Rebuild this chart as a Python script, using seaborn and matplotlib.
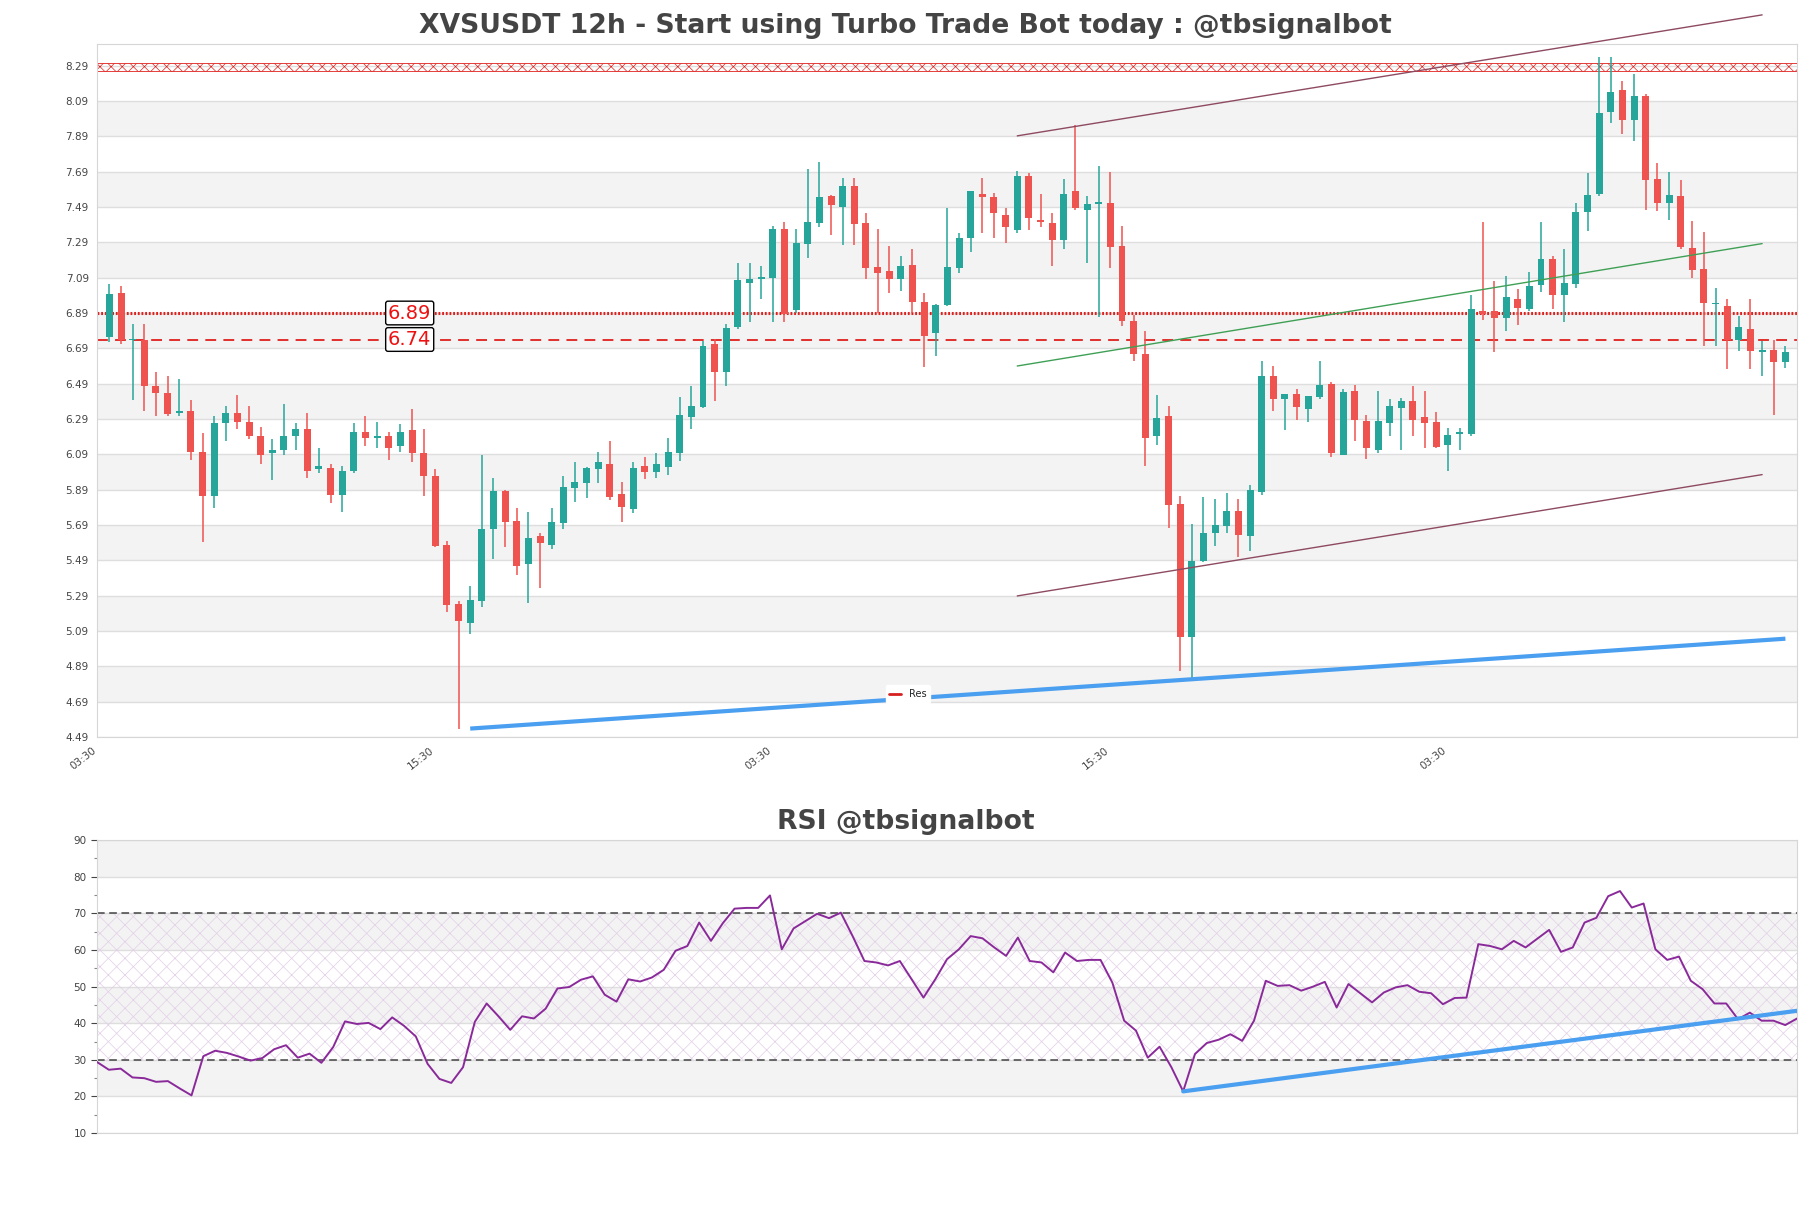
import numpy as np
import pandas as pd
import matplotlib
matplotlib.use("Agg")
import matplotlib.pyplot as plt
from matplotlib.lines import Line2D
import seaborn as sns

# 12h candles
opens = [6.752, 7.005, 6.735, 6.737, 6.479, 6.439, 6.324, 6.337, 6.103, 5.852,
         6.266, 6.324, 6.273, 6.196, 6.098, 6.113, 6.192, 6.235, 6.005, 6.015,
         5.862, 5.994, 6.216, 6.182, 6.196, 6.135, 6.230, 6.099, 5.969, 5.579,
         5.245, 5.132, 5.260, 5.665, 5.882, 5.713, 5.471, 5.628, 5.579, 5.703,
         5.901, 5.930, 6.009, 6.037, 5.865, 5.782, 6.022, 5.992, 6.020, 6.099,
         6.303, 6.360, 6.714, 6.554, 6.809, 7.062, 7.080, 7.090, 7.365, 6.907,
         7.282, 7.401, 7.552, 7.492, 7.607, 7.397, 7.148, 7.130, 7.083, 7.159,
         6.955, 6.775, 6.936, 7.144, 7.315, 7.566, 7.549, 7.447, 7.362, 7.668,
         7.417, 7.397, 7.304, 7.579, 7.471, 7.508, 7.512, 7.267, 6.847, 6.660,
         6.192, 6.309, 5.807, 5.055, 5.486, 5.642, 5.684, 5.767, 5.625, 5.877,
         6.532, 6.403, 6.430, 6.346, 6.413, 6.490, 6.087, 6.449, 6.278, 6.115,
         6.267, 6.350, 6.392, 6.301, 6.271, 6.140, 6.206, 6.204, 6.901, 6.901,
         6.862, 6.970, 6.915, 7.047, 7.193, 6.990, 7.054, 7.460, 7.564, 8.030,
         8.152, 7.984, 8.116, 7.648, 7.513, 7.550, 7.260, 7.139, 6.940, 6.928,
         6.739, 6.799, 6.667, 6.680, 6.615]
highs = [7.056, 7.045, 6.830, 6.830, 6.556, 6.535, 6.518, 6.399, 6.209, 6.309,
         6.366, 6.428, 6.362, 6.245, 6.177, 6.377, 6.269, 6.324, 6.126, 6.037,
         6.024, 6.269, 6.309, 6.273, 6.216, 6.260, 6.349, 6.235, 6.009, 5.598,
         5.258, 5.347, 6.086, 5.954, 5.890, 5.784, 5.764, 5.643, 5.784, 5.967,
         6.047, 6.020, 6.103, 6.165, 5.933, 6.047, 6.075, 6.096, 6.181, 6.415,
         6.475, 6.732, 6.741, 6.828, 7.171, 7.171, 7.154, 7.382, 7.407, 7.364,
         7.705, 7.745, 7.560, 7.657, 7.657, 7.458, 7.367, 7.267, 7.215, 7.254,
         7.005, 6.940, 7.486, 7.345, 7.580, 7.655, 7.570, 7.486, 7.694, 7.685,
         7.566, 7.458, 7.646, 7.956, 7.555, 7.720, 7.687, 7.380, 6.881, 6.786,
         6.428, 6.366, 5.856, 5.698, 5.846, 5.839, 5.869, 5.839, 5.918, 6.617,
         6.589, 6.432, 6.460, 6.422, 6.619, 6.502, 6.460, 6.483, 6.312, 6.451,
         6.403, 6.409, 6.479, 6.449, 6.327, 6.239, 6.239, 6.994, 7.403, 7.072,
         7.100, 7.025, 7.123, 7.403, 7.214, 7.252, 7.513, 7.682, 8.337, 8.337,
         8.203, 8.241, 8.128, 7.739, 7.686, 7.643, 7.411, 7.347, 7.030, 6.969,
         6.871, 6.969, 6.733, 6.739, 6.701]
lows = [6.724, 6.715, 6.396, 6.333, 6.305, 6.309, 6.305, 6.056, 5.592, 5.786,
        6.164, 6.232, 6.175, 6.033, 5.943, 6.084, 6.113, 5.954, 5.984, 5.813,
        5.762, 5.984, 6.135, 6.124, 6.056, 6.101, 6.045, 5.852, 5.565, 5.196,
        4.532, 5.071, 5.224, 5.496, 5.564, 5.409, 5.250, 5.331, 5.552, 5.665,
        5.822, 5.841, 5.926, 5.831, 5.707, 5.760, 5.952, 5.954, 5.971, 6.054,
        6.232, 6.350, 6.394, 6.479, 6.799, 6.841, 6.971, 6.841, 6.841, 6.888,
        7.203, 7.379, 7.332, 7.274, 7.274, 7.083, 6.890, 7.003, 7.014, 6.890,
        6.584, 6.645, 6.930, 7.115, 7.235, 7.343, 7.315, 7.289, 7.343, 7.362,
        7.375, 7.157, 7.250, 7.473, 7.172, 6.868, 7.144, 6.816, 6.621, 6.023,
        6.142, 5.672, 4.864, 4.816, 5.480, 5.570, 5.646, 5.510, 5.540, 5.858,
        6.337, 6.229, 6.286, 6.271, 6.403, 6.077, 6.085, 6.167, 6.066, 6.100,
        6.195, 6.115, 6.195, 6.127, 6.127, 5.996, 6.115, 6.195, 6.848, 6.668,
        6.786, 6.824, 6.899, 7.009, 6.911, 6.839, 7.030, 7.356, 7.554, 7.965,
        7.903, 7.865, 7.475, 7.469, 7.418, 7.252, 7.086, 6.705, 6.705, 6.573,
        6.677, 6.573, 6.535, 6.310, 6.577]
closes = [6.999, 6.737, 6.742, 6.475, 6.435, 6.320, 6.337, 6.101, 5.852, 6.269,
          6.324, 6.271, 6.192, 6.084, 6.115, 6.196, 6.235, 5.994, 6.024, 5.862,
          5.998, 6.216, 6.182, 6.196, 6.124, 6.216, 6.096, 5.965, 5.571, 5.235,
          5.145, 5.267, 5.667, 5.882, 5.709, 5.460, 5.616, 5.590, 5.705, 5.905,
          5.933, 6.011, 6.047, 5.850, 5.794, 6.013, 5.990, 6.035, 6.101, 6.313,
          6.362, 6.703, 6.554, 6.803, 7.077, 7.082, 7.096, 7.365, 6.884, 7.286,
          7.407, 7.547, 7.501, 7.607, 7.393, 7.144, 7.118, 7.083, 7.157, 6.951,
          6.762, 6.936, 7.148, 7.317, 7.579, 7.547, 7.456, 7.375, 7.668, 7.427,
          7.406, 7.304, 7.566, 7.484, 7.510, 7.512, 7.263, 6.842, 6.658, 6.181,
          6.298, 5.802, 5.055, 5.486, 5.646, 5.687, 5.767, 5.635, 5.886, 6.532,
          6.403, 6.430, 6.358, 6.420, 6.483, 6.096, 6.441, 6.286, 6.127, 6.278,
          6.362, 6.394, 6.286, 6.267, 6.134, 6.199, 6.209, 6.915, 6.886, 6.862,
          6.981, 6.918, 7.043, 7.193, 6.990, 7.062, 7.460, 7.558, 8.022, 8.139,
          7.984, 8.116, 7.645, 7.513, 7.558, 7.262, 7.135, 6.947, 6.945, 6.739,
          6.809, 6.677, 6.680, 6.615, 6.667]

rsi = [29.4, 27.3, 27.6, 25.2, 25.0, 24.0, 24.2, 22.2, 20.3, 31.0,
       32.5, 31.9, 30.9, 29.8, 30.5, 32.9, 34.0, 30.6, 31.7, 29.2,
       33.5, 40.5, 39.8, 40.1, 38.4, 41.6, 39.3, 36.4, 28.9, 24.8,
       23.7, 28.0, 40.4, 45.4, 41.9, 38.2, 41.9, 41.3, 44.0, 49.5,
       49.9, 51.9, 52.8, 47.8, 45.9, 52.0, 51.4, 52.5, 54.6, 59.8,
       61.1, 67.5, 62.5, 67.3, 71.3, 71.5, 71.5, 74.9, 60.2, 65.9,
       67.9, 69.9, 68.7, 70.2, 63.8, 57.0, 56.6, 55.8, 57.0, 52.0,
       47.0, 52.0, 57.5, 60.2, 63.8, 63.2, 60.7, 58.4, 63.4, 57.0,
       56.6, 53.9, 59.3, 57.0, 57.3, 57.3, 51.1, 40.7, 38.0, 30.6,
       33.6, 28.0, 21.4, 31.6, 34.6, 35.5, 37.0, 35.2, 40.7, 51.6,
       50.2, 50.4, 48.9, 50.0, 51.3, 44.3, 50.7, 48.2, 45.7, 48.4,
       49.8, 50.4, 48.6, 48.2, 45.2, 46.9, 47.0, 61.6, 61.1, 60.2,
       62.5, 60.7, 63.1, 65.5, 59.5, 60.7, 67.5, 68.8, 74.7, 76.1,
       71.6, 72.7, 60.2, 57.3, 58.2, 51.6, 49.3, 45.4, 45.4, 41.1,
       42.9, 40.7, 40.7, 39.5, 41.3]

# levels and trend lines
res_level = 6.89
sup_level = 6.74
top_zone = [8.262, 8.307]
sup_x = [31, 144]
sup_y = [4.537, 5.046]
chan_x = [78, 142]
chan_top = [7.893, 8.578]
chan_mid = [6.590, 7.283]
chan_bot = [5.288, 5.975]
rsi_sup_x = [92, 144]
rsi_sup_y = [21.4, 43.4]

price_ticks = [4.49, 4.69, 4.89, 5.09, 5.29, 5.49, 5.69, 5.89, 6.09, 6.29,
               6.49, 6.69, 6.89, 7.09, 7.29, 7.49, 7.69, 7.89, 8.09, 8.29]
time_ticks = [-1, 28, 57, 86, 115]
time_labels = ['03:30', '15:30', '03:30', '15:30', '03:30']
rsi_ticks = [10, 20, 30, 40, 50, 60, 70, 80, 90]

sns.set_style("white")
plt.rcParams['font.family'] = ['DejaVu Sans']
plt.rcParams['hatch.linewidth'] = 0.5

df = pd.DataFrame({'open': opens, 'high': highs, 'low': lows, 'close': closes})
df['idx'] = np.arange(len(df))
green, red = '#26a69a', '#ef5350'
colors = np.where(df['close'] >= df['open'], green, red)

fig = plt.figure(figsize=(18.11, 12.08), dpi=100)
ax = fig.add_axes([0.0536, 0.390, 0.9387, 0.5737])
ax2 = fig.add_axes([0.0536, 0.062, 0.9387, 0.2425])
title_x = (0.5 - 0.0536) / 0.9387  # titles sit at the figure centre

# ---- price panel
for k in range(1, len(price_ticks) - 1, 2):
    ax.axhspan(price_ticks[k], price_ticks[k + 1], color='#f3f3f3', lw=0, zorder=0)
for t in price_ticks:
    ax.axhline(t, color='#dedede', lw=1, zorder=1)

ax.vlines(df['idx'], df['low'], df['high'], colors=colors, lw=1.1, zorder=3)
body = (df['close'] - df['open']).abs().clip(lower=0.008)
bottom = df[['open', 'close']].min(axis=1)
ax.bar(df['idx'], body, bottom=bottom, width=0.6, color=colors, lw=0, zorder=4)

ax.axhspan(top_zone[0], top_zone[1], facecolor='none', edgecolor='#e0201c',
           hatch='xxx', lw=0.6, zorder=2)
ax.axhline(res_level, color='#e0201c', lw=2.2, ls=(0, (0.6, 0.6)), zorder=2)
ax.axhline(sup_level, color='#e0201c', lw=1.3, ls=(0, (6, 4)), zorder=2)
for lvl in [res_level, sup_level]:
    ax.text(25.8, lvl, f'{lvl:.2f}', color='#ee1111', fontsize=14,
            ha='center', va='center', zorder=6,
            bbox=dict(boxstyle='round,pad=0.12', fc='white', ec='black', lw=1))

ax.plot(sup_x, sup_y, color='#4a9ff0', lw=3, zorder=5, solid_capstyle='butt')
ax.plot(chan_x, chan_top, color='#8e4a60', lw=1, zorder=5, clip_on=False)
ax.plot(chan_x, chan_bot, color='#8e4a60', lw=1, zorder=5)
ax.plot(chan_x, chan_mid, color='#3fa055', lw=1, zorder=5)

ax.set_xlim(-1.06, 145.0)
ax.set_ylim(4.49, 8.414)
ax.set_yticks(price_ticks)
ax.set_yticklabels([f'{t:.2f}' for t in price_ticks])
ax.set_xticks(time_ticks)
ax.set_xticklabels(time_labels, rotation=38, ha='right')
ax.tick_params(axis='both', labelsize=7.5, colors='#444444', length=0, pad=6)
for s in ax.spines.values():
    s.set_color('#d6d6d6')
ax.set_title('XVSUSDT 12h - Start using Turbo Trade Bot today : @tbsignalbot',
             fontsize=19.2, fontweight='bold', color='#444444', pad=8, x=title_x)
leg = ax.legend(handles=[Line2D([], [], color='#d62020', lw=2)], labels=['Res'],
                loc='center', bbox_to_anchor=(0.477, 0.062), fontsize=7,
                frameon=True, framealpha=1, edgecolor='white', handlelength=1.2)

# ---- RSI panel
rsi_df = pd.DataFrame({'i': np.arange(len(rsi)), 'rsi': rsi})
for lo in [20, 40, 60, 80]:
    ax2.axhspan(lo, lo + 10, color='#f3f3f3', lw=0, zorder=0)
for t in rsi_ticks:
    ax2.axhline(t, color='#dedede', lw=1, zorder=1)
ax2.axhspan(30, 70, facecolor='none', edgecolor='#e2cfe8', hatch='xx', lw=0, zorder=1)
ax2.axhline(30, color='#444444', lw=1.1, ls=(0, (5, 3)), zorder=2)
ax2.axhline(70, color='#444444', lw=1.1, ls=(0, (5, 3)), zorder=2)
sns.lineplot(data=rsi_df, x='i', y='rsi', ax=ax2, color='#8a2a9a', lw=1.4, zorder=4)
ax2.plot(rsi_sup_x, rsi_sup_y, color='#4a9ff0', lw=3, zorder=5)
ax2.set_xlim(0, len(rsi) - 1)
ax2.set_ylim(10, 90)
ax2.set_yticks(rsi_ticks)
ax2.set_yticks([15, 25, 35, 45, 55, 65, 75, 85], minor=True)
ax2.set_xticks([])
ax2.set_xlabel('')
ax2.set_ylabel('')
ax2.tick_params(axis='y', which='major', labelsize=7.5, colors='#444444', length=4, width=0.8, left=True)
ax2.tick_params(axis='y', which='minor', length=2.5, width=0.8, colors='#888888', left=True)
for s in ax2.spines.values():
    s.set_color('#d6d6d6')
ax2.set_title('RSI @tbsignalbot', fontsize=19.2, fontweight='bold', color='#444444', pad=8, x=title_x)

fig.savefig('out.png', dpi=100)
